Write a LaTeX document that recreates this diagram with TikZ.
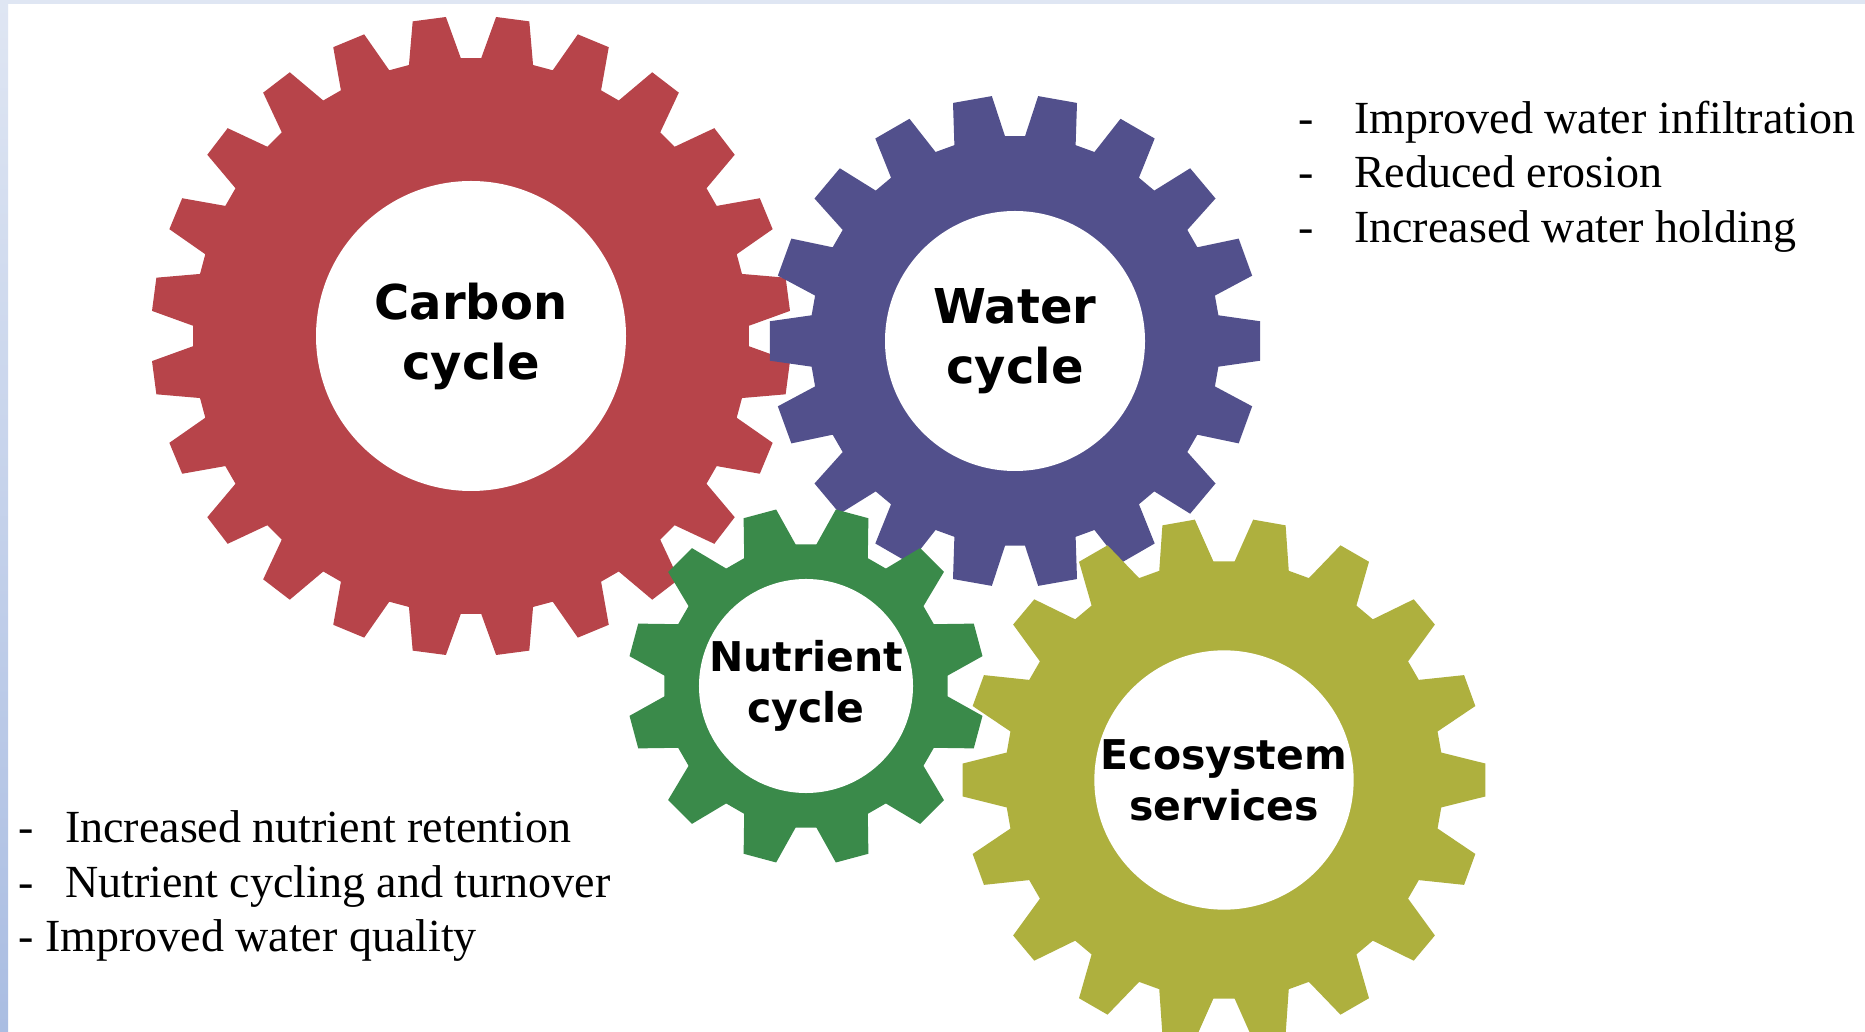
\documentclass[tikz,border=0pt]{standalone}
\usepackage{fontspec}
\setmainfont{Liberation Serif}
\newfontfamily\cogfont{DejaVu Sans}
\definecolor{cogred}{RGB}{183,68,74}
\definecolor{cogblue}{RGB}{82,80,140}
\definecolor{coggreen}{RGB}{58,138,74}
\definecolor{cogolive}{RGB}{174,176,62}
\definecolor{stripetop}{RGB}{223,230,243}
\definecolor{stripebot}{RGB}{170,189,226}
% #1 centre, #2 teeth, #3 root radius, #4 tip radius, #5 first tooth angle, #6 colour, #7 tip width
\newcommand{\cogwheel}[7]{%
  \pgfmathsetmacro{\cogpitch}{360/#2}
  \fill[#6,shift={#1}] (#5-0.36*\cogpitch:#3)
    \foreach \k [evaluate=\k as \a using #5+(\k-1)*\cogpitch] in {1,...,#2}{
      -- (\a-0.36*\cogpitch:#3) -- (\a-#7*\cogpitch:#4)
      -- (\a+#7*\cogpitch:#4) -- (\a+0.36*\cogpitch:#3)
    } -- cycle;
}
\begin{document}
\begin{tikzpicture}[x=1pt,y=1pt,
cogtext/.style={circle,fill=white,inner sep=0pt,align=center},
bigtext/.style={cogtext,font=\cogfont\bfseries\fontsize{48pt}{60pt}\selectfont},
smalltext/.style={cogtext,font=\cogfont\bfseries\fontsize{41pt}{51pt}\selectfont},
listline/.style={anchor=base west,inner sep=0pt,font=\fontsize{46pt}{54pt}\selectfont}]
\useasboundingbox (0,0) rectangle (1865,1031);
\fill[white] (0,0) rectangle (1865,1031);
\shade[top color=stripetop,bottom color=stripebot] (0,0) rectangle (8,1031);
\fill[stripetop] (0,1027) rectangle (1865,1031);

% gears
\cogwheel{(471,695)}{24}{278}{320}{7.5}{cogred}{0.2}
\cogwheel{(1015,690)}{18}{205}{246}{0}{cogblue}{0.23}
\cogwheel{(806,345)}{12}{142}{179}{15}{coggreen}{0.18}
\cogwheel{(1224,251)}{18}{219}{262}{0}{cogolive}{0.18}

\node[bigtext,minimum size=310pt] (carbon) at (471,695) {Carbon\\cycle};
\node[bigtext,minimum size=260pt] (water) at (1015,690) {Water\\cycle};
\node[smalltext,minimum size=208pt] (nutrient) at (806,345) {Nutrient\\cycle};
\node[smalltext,minimum size=256pt] (eco) at (1224,251) {Ecosystem\\services};

% lists
\node[listline] (w1) at (1298,897) {\makebox[56pt][l]{-}Improved water infiltration};
\node[listline] (w2) at (1298,843) {\makebox[56pt][l]{-}Reduced erosion};
\node[listline] (w3) at (1298,788) {\makebox[56pt][l]{-}Increased water holding};
\node[listline] (n1) at (18,189) {\makebox[47pt][l]{-}Increased nutrient retention};
\node[listline] (n2) at (18,134) {\makebox[47pt][l]{-}Nutrient cycling and turnover};
\node[listline] (n3) at (18,80) {\makebox[27pt][l]{-}Improved water quality};
\end{tikzpicture}
\end{document}
